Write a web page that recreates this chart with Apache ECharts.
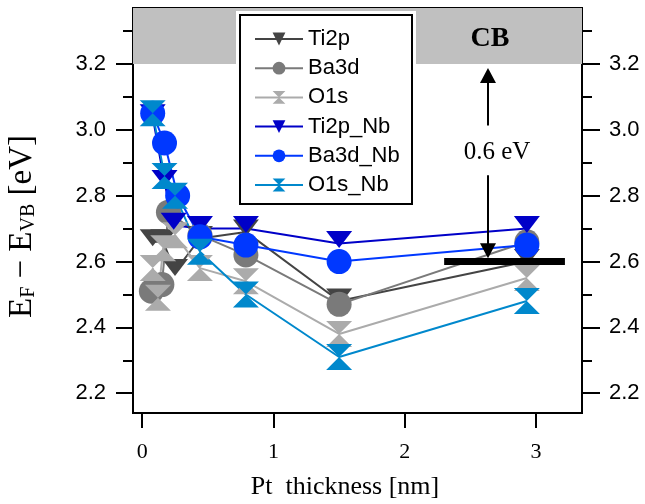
<!DOCTYPE html>
<html>
<head>
<meta charset="utf-8">
<script src="https://cdn.jsdelivr.net/npm/echarts@6/dist/echarts.min.js"></script>
<style>html,body{margin:0;padding:0;background:#fff;}#c{width:645px;height:504px;}</style>
</head>
<body>
<div id="c"></div>
<script>
// ---- data ----
const seriesNames = ['Ti2p', 'Ba3d', 'O1s', 'Ti2p_Nb', 'Ba3d_Nb', 'O1s_Nb'];
const ti2pX = [0.08, 0.16, 0.25, 0.44, 0.79, 1.5, 2.93];
const ti2pY = [2.66, 2.66, 2.57, 2.67, 2.69, 2.48, 2.60];
const ba3dX = [0.07, 0.15, 0.20, 0.44, 0.79, 1.5, 2.93];
const ba3dY = [2.51, 2.53, 2.75, 2.68, 2.62, 2.47, 2.66];
const o1sX = [0.08, 0.12, 0.16, 0.25, 0.44, 0.79, 1.5, 2.93];
const o1sY = [2.58, 2.49, 2.64, 2.68, 2.58, 2.54, 2.38, 2.55];
const ti2pNbX = [0.08, 0.17, 0.24, 0.44, 0.79, 1.5, 2.93];
const ti2pNbY = [3.04, 2.84, 2.71, 2.70, 2.70, 2.655, 2.70];
const ba3dNbX = [0.08, 0.17, 0.27, 0.44, 0.79, 1.5, 2.93];
const ba3dNbY = [3.05, 2.96, 2.80, 2.675, 2.65, 2.60, 2.65];
const o1sNbX = [0.08, 0.17, 0.25, 0.44, 0.79, 1.5, 2.93];
const o1sNbY = [3.05, 2.86, 2.80, 2.63, 2.50, 2.31, 2.48];

const xTicks = [0, 1, 2, 3];
const yTicks = [2.2, 2.4, 2.6, 2.8, 3.0, 3.2];
const yMinorTicks = [2.3, 2.5, 2.7, 2.9, 3.1, 3.3];
const xRange = [-0.07, 3.35];
const yRange = [2.14, 3.37];

// annotations
const cbLevel = 3.2;          // conduction band edge
const barY = 2.6;             // thick reference bar
const barX = [2.30, 3.22];
const arrowX = 2.634;
const arrowUp = [3.013, 3.165];
const arrowDown = [2.862, 2.633];
const gapLabel = '0.6 eV';
const cbLabel = 'CB';

// ---- styles ----
const colors = ['#444444', '#7a7a7a', '#ababab', '#0000c8', '#0038ff', '#0088cc'];
const triDown = 'path://M0,0L26,0L13,17Z';
const hourglass = 'path://M0,0L26,0L13,13L26,26L0,26L13,13Z';
const symbols = [triDown, 'circle', hourglass, triDown, 'circle', hourglass];
const symbolSizes = [[26, 17], 25, [26, 26], [26, 17], 25, [26, 26]];
const symbolOffsets = [[0, -4], [0, 0], [0, 0], [0, -4], [0, 0], [0, 0]];

const xs = [ti2pX, ba3dX, o1sX, ti2pNbX, ba3dNbX, o1sNbX];
const ys = [ti2pY, ba3dY, o1sY, ti2pNbY, ba3dNbY, o1sNbY];

const SANS = 'Liberation Sans';
const SERIF = 'Liberation Serif';

const series = seriesNames.map((name, i) => ({
  name: name,
  type: 'line',
  data: xs[i].map((x, k) => [x, ys[i][k]]),
  symbol: symbols[i],
  symbolSize: symbolSizes[i],
  symbolOffset: symbolOffsets[i],
  showSymbol: true,
  lineStyle: { color: colors[i], width: 2 },
  itemStyle: { color: colors[i], opacity: 1 },
  emphasis: { disabled: true },
  z: 2
}));

// CB band
series[0].markArea = {
  silent: true,
  itemStyle: { color: '#c0c0c0' },
  label: { show: false },
  data: [[{ yAxis: cbLevel }, { yAxis: yRange[1] }]]
};

// bar + arrows
series[5].markLine = {
  silent: true,
  animation: false,
  symbolSize: [16, 15],
  label: { show: false },
  data: [
    [
      { coord: [barX[0], barY], symbol: 'none', lineStyle: { color: '#000', width: 7, type: 'solid' } },
      { coord: [barX[1], barY], symbol: 'none' }
    ],
    [
      { coord: [arrowX, arrowUp[0]], symbol: 'none', lineStyle: { color: '#000', width: 2, type: 'solid' }, itemStyle: { color: '#000' } },
      { coord: [arrowX, arrowUp[1]], symbol: 'triangle', symbolSize: [16, 15], itemStyle: { color: '#000' } }
    ],
    [
      { coord: [arrowX, arrowDown[0]], symbol: 'none', lineStyle: { color: '#000', width: 2, type: 'solid' }, itemStyle: { color: '#000' } },
      { coord: [arrowX, arrowDown[1]], symbol: 'triangle', symbolSize: [16, 15], itemStyle: { color: '#000' } }
    ]
  ]
};

function yAxisDef(pos, ticks, len, withLabels, withName) {
  const ax = {
    type: 'value',
    position: pos,
    min: yRange[0],
    max: yRange[1],
    axisLine: { show: true, onZero: false, lineStyle: { color: '#000', width: 2 } },
    axisTick: { show: true, inside: false, length: len, customValues: ticks, lineStyle: { color: '#000', width: 2 } },
    axisLabel: withLabels ? {
      show: true, customValues: ticks, margin: 27,
      formatter: v => Number(v).toFixed(1),
      fontFamily: SANS, fontSize: 22, color: '#000'
    } : { show: false },
    splitLine: { show: false }
  };
  if (withName) {
    ax.name = 'E{s|F} \u2212 E{s|VB} [eV]';
    ax.nameLocation = 'middle';
    ax.nameRotate = 90;
    ax.nameGap = 94;
    ax.nameTextStyle = {
      fontFamily: SERIF, fontSize: 33, color: '#000',
      padding: [0, 32, 0, 0],
      rich: { s: { fontFamily: SERIF, fontSize: 20, color: '#000', verticalAlign: 'bottom', padding: [13, 0, 0, 0] } }
    };
  }
  return ax;
}

const option = {
  animation: false,
  backgroundColor: '#fff',
  grid: {
    left: 133, right: 63, top: 8, bottom: 91,
    show: true, borderColor: '#000', borderWidth: 2, backgroundColor: 'transparent',
    containLabel: false, outerBoundsMode: 'none'
  },
  xAxis: {
    type: 'value',
    min: xRange[0], max: xRange[1],
    axisLine: { show: true, onZero: false, lineStyle: { color: '#000', width: 2 } },
    axisTick: { show: true, inside: false, length: 15, customValues: xTicks, lineStyle: { color: '#000', width: 2 } },
    axisLabel: { show: true, customValues: xTicks, margin: 28, fontFamily: SERIF, fontSize: 22, color: '#000' },
    splitLine: { show: false },
    name: 'Pt  thickness [nm]',
    nameLocation: 'middle',
    nameGap: 61,
    nameTextStyle: { fontFamily: SERIF, fontSize: 26, color: '#000', padding: [0, 25, 0, 0] }
  },
  yAxis: [
    yAxisDef('left', yTicks, 17, true, true),
    yAxisDef('right', yTicks, 18, true, false),
    yAxisDef('left', yMinorTicks, 10, false, false),
    yAxisDef('right', yMinorTicks, 10, false, false)
  ],
  legend: {
    orient: 'vertical',
    left: 249, top: 23,
    itemWidth: 48, itemHeight: 16, itemGap: 7.2,
    textStyle: { fontFamily: SANS, fontSize: 22, color: '#000', lineHeight: 22 },
    data: seriesNames,
    selectedMode: false,
    z: 5
  },
  graphic: [
    { type: 'rect', z: 3, shape: { x: 236, y: 11, width: 180, height: 197 }, style: { fill: '#fff' } },
    { type: 'rect', z: 3, shape: { x: 240, y: 15, width: 172, height: 189 }, style: { fill: '#fff', stroke: '#000', lineWidth: 2 } },
    { type: 'text', z: 4, x: 490, y: 39, style: { text: cbLabel, font: 'bold 28px "Liberation Serif"', fill: '#000', textAlign: 'center', textVerticalAlign: 'middle' } },
    { type: 'text', z: 4, x: 497, y: 152, style: { text: gapLabel, font: '25px "Liberation Serif"', fill: '#000', textAlign: 'center', textVerticalAlign: 'middle' } }
  ],
  series: series
};

const chart = echarts.init(document.getElementById('c'), null, { renderer: 'canvas' });
chart.setOption(option);
</script>
</body>
</html>
